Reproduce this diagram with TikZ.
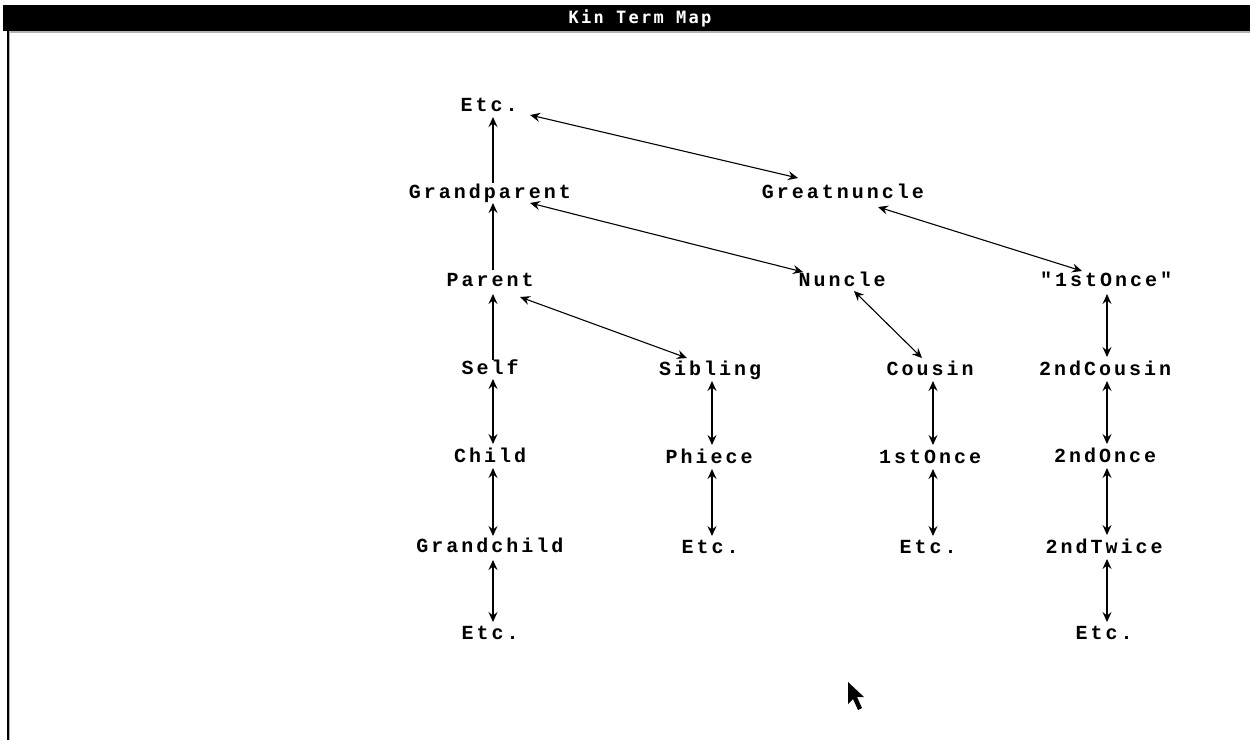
\documentclass[tikz,border=0pt]{standalone}
\usepackage{fontspec}
\newfontfamily\kinfont[LetterSpace=15,Ligatures=ResetAll]{Liberation Mono}
\newfontfamily\kintitlefont[LetterSpace=13,Ligatures=ResetAll]{DejaVu Sans Mono}
\usetikzlibrary{arrows.meta}
\begin{document}
\begin{tikzpicture}[x=1pt,y=-1pt,
  kin/.style={font=\kinfont\bfseries\fontsize{20}{20}\selectfont, inner sep=0pt, text height=13pt, text depth=0pt},
  kintitle/.style={font=\kintitlefont\bfseries\fontsize{17}{17}\selectfont, text=white, inner sep=0pt},
  kinlink/.style={line width=1.1pt, {Stealth[length=10pt,width=9pt,inset=3.5pt]}-{Stealth[length=10pt,width=9pt,inset=3.5pt]}},
  kinup/.style={line width=1.4pt, -{Stealth[length=10pt,width=9pt,inset=3.5pt]}}
]
\useasboundingbox (0,0) rectangle (1250,740);
\fill[white] (0,0) rectangle (1250,740);
% window frame
\fill[black] (3,5) rectangle (1250,31);
\fill[gray!60] (9,31) rectangle (1250,32.5);
\fill[black] (7,31) rectangle (9,740);
\fill[gray!60] (9,32) rectangle (10,740);
\node[kintitle] (title) at (640,18) {Kin Term Map};

% nodes
\node[kin] (etcA) at (489,105) {Etc.};
\node[kin] (grandparent) at (490,192) {Grandparent};
\node[kin] (greatnuncle) at (843,192) {Greatnuncle};
\node[kin] (parent) at (490,280) {Parent};
\node[kin] (nuncle) at (842,280) {Nuncle};
\node[kin] (firstonceq) at (1106,280) {"1stOnce"};
\node[kin] (self) at (490,368) {Self};
\node[kin] (sibling) at (710,369) {Sibling};
\node[kin] (cousin) at (930,369) {Cousin};
\node[kin] (secondcousin) at (1105,369) {2ndCousin};
\node[kin] (child) at (490,456) {Child};
\node[kin] (phiece) at (709,457) {Phiece};
\node[kin] (firstonce) at (930,457) {1stOnce};
\node[kin] (secondonce) at (1105,456) {2ndOnce};
\node[kin] (grandchild) at (490,546) {Grandchild};
\node[kin] (etcB) at (710,547) {Etc.};
\node[kin] (etcC) at (928,547) {Etc.};
\node[kin] (secondtwice) at (1104,547) {2ndTwice};
\node[kin] (etcD) at (490,633) {Etc.};
\node[kin] (etcE) at (1104,633) {Etc.};

% ancestor line
\draw[kinup] ([shift={(3,-9)}]grandparent.center) -- ([shift={(4,12)}]etcA.center);
\draw[kinup] ([shift={(3,-10)}]parent.center) -- ([shift={(3,11)}]grandparent.center);
\draw[kinup] ([shift={(3,-8)}]self.center) -- ([shift={(3,14)}]parent.center);

% descendants
\draw[kinlink] ([shift={(3,11)}]self.center) -- ([shift={(3,-12)}]child.center);
\draw[kinlink] ([shift={(3,12)}]child.center) -- ([shift={(3,-10)}]grandchild.center);
\draw[kinlink] ([shift={(3,14)}]grandchild.center) -- ([shift={(3,-11)}]etcD.center);

\draw[kinlink] ([shift={(2,12)}]sibling.center) -- ([shift={(3,-12)}]phiece.center);
\draw[kinlink] ([shift={(3,12)}]phiece.center) -- ([shift={(2,-11)}]etcB.center);

\draw[kinlink] ([shift={(3,12)}]cousin.center) -- ([shift={(3,-12)}]firstonce.center);
\draw[kinlink] ([shift={(3,12)}]firstonce.center) -- ([shift={(5,-11)}]etcC.center);

\draw[kinlink] ([shift={(1,14)}]firstonceq.center) -- ([shift={(2,-12)}]secondcousin.center);
\draw[kinlink] ([shift={(2,12)}]secondcousin.center) -- ([shift={(2,-12)}]secondonce.center);
\draw[kinlink] ([shift={(2,12)}]secondonce.center) -- ([shift={(3,-12)}]secondtwice.center);
\draw[kinlink] ([shift={(3,12)}]secondtwice.center) -- ([shift={(3,-11)}]etcE.center);

% diagonal links
\draw[kinlink] ([shift={(41,10)}]etcA.center) -- ([shift={(-45,-14)}]greatnuncle.center);
\draw[kinlink] ([shift={(40,11)}]grandparent.center) -- ([shift={(-39,-8)}]nuncle.center);
\draw[kinlink] ([shift={(30,17)}]parent.center) -- ([shift={(-23,-11)}]sibling.center);
\draw[kinlink] ([shift={(35,15)}]greatnuncle.center) -- ([shift={(-24,-9)}]firstonceq.center);
\draw[kinlink] ([shift={(12,11)}]nuncle.center) -- ([shift={(-8,-11)}]cousin.center);

% mouse pointer
\fill[black] (848,682) -- (848,704) -- (853,699) -- (858,710) -- (862,708) -- (857,697) -- (864,697) -- cycle;
\end{tikzpicture}
\end{document}
